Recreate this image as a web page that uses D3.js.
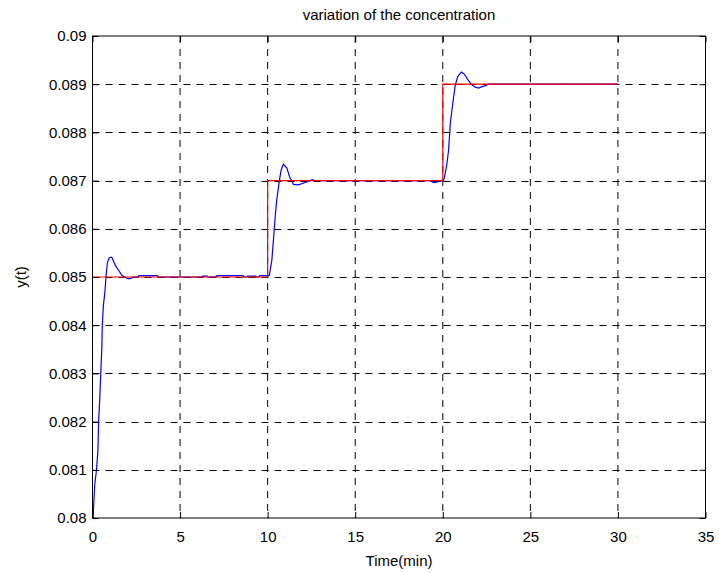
<!DOCTYPE html>
<html>
<head>
<meta charset="utf-8">
<script src="https://cdn.jsdelivr.net/npm/d3@7"></script>
<style>
  body { margin: 0; background: #fff; }
  svg { display: block; font-family: "Liberation Sans", Arial, sans-serif; }
</style>
</head>
<body>
<script>
// reference (setpoint) signal, min / concentration
const refTime = [0, 10, 10, 20, 20, 30];
const refValue = [0.085, 0.085, 0.087, 0.087, 0.089, 0.089];

const respTime = [
  0, 0.03, 0.13, 0.23, 0.31, 0.35, 0.41, 0.53, 0.56, 0.62, 0.71, 0.77, 0.85,
  0.96, 1.1, 1.29, 1.47, 1.67, 1.86, 2.1, 2.24, 2.4, 2.6, 2.65, 3.7, 3.75,
  3.9, 6.2, 6.25, 6.3, 6.55, 6.6, 7.0, 7.05, 7.1, 8.6, 8.65, 8.8, 8.85, 9.3,
  9.35, 9.5, 9.55, 10.0, 10.05, 10.1, 10.24, 10.33, 10.43, 10.52, 10.66,
  10.77, 10.9, 11.1, 11.25, 11.48, 11.76, 12.14, 12.43, 12.55, 12.7, 19.3,
  19.48, 19.75, 20.05, 20.14, 20.24, 20.33, 20.43, 20.52, 20.62, 20.71,
  20.85, 21.06, 21.23, 21.42, 21.67, 21.86, 22.05, 22.24, 22.43, 22.6, 30
];
const respValue = [
  0.08, 0.08, 0.0807, 0.081, 0.0814, 0.082, 0.08245, 0.0835, 0.084, 0.0844,
  0.0847, 0.085, 0.0853, 0.0854, 0.08541, 0.08525, 0.08515, 0.08504,
  0.08499, 0.08496, 0.08498, 0.085, 0.085, 0.08503, 0.08503, 0.085, 0.085,
  0.085, 0.085, 0.08502, 0.08502, 0.085, 0.085, 0.085, 0.08503, 0.08503,
  0.085, 0.085, 0.08502, 0.08502, 0.085, 0.085, 0.08503, 0.08503, 0.08503,
  0.08504, 0.08535, 0.08577, 0.08625, 0.0866, 0.08698, 0.08722, 0.08734,
  0.08726, 0.08708, 0.08692, 0.08691, 0.08696, 0.087, 0.08702, 0.087, 0.087,
  0.08696, 0.08698, 0.087, 0.08715, 0.08736, 0.08763, 0.08819, 0.08846,
  0.08874, 0.08897, 0.08916, 0.08925, 0.08921, 0.0891, 0.08898, 0.08894,
  0.08892, 0.08895, 0.08897, 0.089, 0.089
];

const xTicks = [0, 5, 10, 15, 20, 25, 30, 35];
const yTicks = [0.08, 0.081, 0.082, 0.083, 0.084, 0.085, 0.086, 0.087, 0.088, 0.089, 0.09];
const yTickLabels = ["0.08", "0.081", "0.082", "0.083", "0.084", "0.085", "0.086", "0.087", "0.088", "0.089", "0.09"];

const width = 719,
  height = 573;
const margin = { top: 36, right: 13.5, bottom: 55, left: 92.5 };
const innerWidth = width - margin.left - margin.right;
const innerHeight = height - margin.top - margin.bottom;

const xScale = d3.scaleLinear().domain([0, 35]).range([0, innerWidth]);
const yScale = d3.scaleLinear().domain([0.08, 0.09]).range([innerHeight, 0]);

const svg = d3
  .select("body")
  .append("svg")
  .attr("width", width)
  .attr("height", height);

const mainG = svg
  .append("g")
  .attr("transform", `translate(${margin.left},${margin.top})`);

// dashed grid
mainG
  .append("g")
  .selectAll("line")
  .data(xTicks.slice(1, -1))
  .enter()
  .append("line")
  .attr("x1", (d) => xScale(d))
  .attr("x2", (d) => xScale(d))
  .attr("y1", 0)
  .attr("y2", innerHeight)
  .attr("stroke", "#000")
  .attr("stroke-dasharray", "7,6");

mainG
  .append("g")
  .selectAll("line")
  .data(yTicks.slice(1, -1))
  .enter()
  .append("line")
  .attr("x1", 0)
  .attr("x2", innerWidth)
  .attr("y1", (d) => Math.round(yScale(d)) + 0.5)
  .attr("y2", (d) => Math.round(yScale(d)) + 0.5)
  .attr("stroke", "#000")
  .attr("stroke-dasharray", "7,6");

// curves
const line = d3
  .line()
  .x((d) => xScale(d[0]))
  .y((d) => yScale(d[1]));

mainG
  .append("path")
  .datum(d3.zip(respTime, respValue))
  .attr("fill", "none")
  .attr("stroke", "#0000ff")
  .attr("stroke-width", 1.2)
  .attr("d", line);

mainG
  .append("path")
  .datum(d3.zip(refTime, refValue))
  .attr("fill", "none")
  .attr("stroke", "#ff0000")
  .attr("stroke-width", 1.2)
  .attr("d", line);

// axes, ticks pointing inward
const xAxis = d3
  .axisBottom(xScale)
  .tickValues(xTicks)
  .tickSizeInner(-6)
  .tickSizeOuter(0)
  .tickPadding(13);
const xAxisTop = d3
  .axisTop(xScale)
  .tickValues(xTicks)
  .tickSizeInner(-6)
  .tickSizeOuter(0);
const yAxis = d3
  .axisLeft(yScale)
  .tickValues(yTicks)
  .tickSizeInner(-6)
  .tickSizeOuter(0)
  .tickPadding(6)
  .tickFormat((d, i) => yTickLabels[i]);
const yAxisRight = d3
  .axisRight(yScale)
  .tickValues(yTicks)
  .tickSizeInner(-6)
  .tickSizeOuter(0);

function styleAxis(g) {
  g.select(".domain").remove();
  g.selectAll("text")
    .attr("fill", "#000")
    .style("font-family", '"Liberation Sans", Arial, sans-serif')
    .style("font-size", "15px");
}

// top / right axes only carry tick marks
function ticksOnly(g) {
  g.select(".domain").remove();
  g.selectAll("text").remove();
}

mainG.append("g").attr("transform", `translate(0,${innerHeight})`).call(xAxis).call(styleAxis);
mainG.append("g").call(xAxisTop).call(ticksOnly);
mainG.append("g").call(yAxis).call(styleAxis);
mainG.append("g").attr("transform", `translate(${innerWidth},0)`).call(yAxisRight).call(ticksOnly);

// box
mainG
  .append("rect")
  .attr("width", innerWidth)
  .attr("height", innerHeight)
  .attr("fill", "none")
  .attr("stroke", "#000");

// labels
mainG
  .append("text")
  .attr("x", innerWidth / 2)
  .attr("y", -16)
  .attr("text-anchor", "middle")
  .attr("font-size", 15)
  .text("variation of the concentration");

mainG
  .append("text")
  .attr("x", innerWidth / 2)
  .attr("y", innerHeight + 48)
  .attr("text-anchor", "middle")
  .attr("font-size", 15)
  .text("Time(min)");

svg
  .append("text")
  .attr("transform", `translate(21,${margin.top + innerHeight / 2}) rotate(-90)`)
  .attr("text-anchor", "middle")
  .attr("dy", "0.35em")
  .attr("font-size", 15)
  .text("y(t)");
</script>
</body>
</html>
